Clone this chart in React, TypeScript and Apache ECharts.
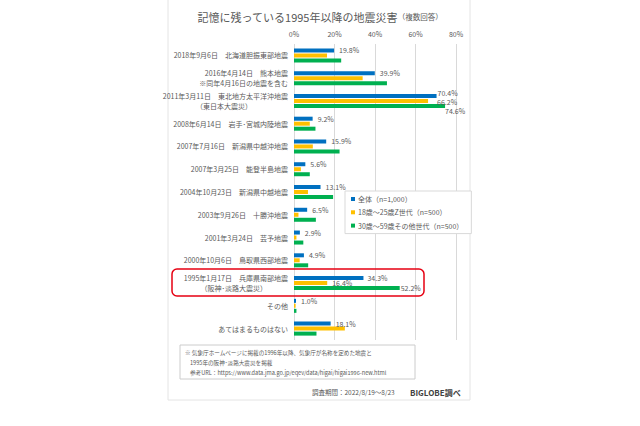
import React, { useEffect, useRef } from "react";
import * as echarts from "echarts";

const categories = [
  "2018年9月6日　北海道胆振東部地震",
  "2016年4月14日　熊本地震\n※同年4月16日の地震を含む",
  "2011年3月11日　東北地方太平洋沖地震\n（東日本大震災）",
  "2008年6月14日　岩手･宮城内陸地震",
  "2007年7月16日　新潟県中越沖地震",
  "2007年3月25日　能登半島地震",
  "2004年10月23日　新潟県中越地震",
  "2003年9月26日　十勝沖地震",
  "2001年3月24日　芸予地震",
  "2000年10月6日　鳥取県西部地震",
  "1995年1月17日　兵庫県南部地震\n（阪神･淡路大震災）",
  "その他",
  "あてはまるものはない",
];

const seriesNames = ["全体（n=1,000）", "18歳～25歳Z世代（n=500）", "30歳～59歳その他世代（n=500）"];

const totalValues = [19.8, 39.9, 70.4, 9.2, 15.9, 5.6, 13.1, 6.5, 2.9, 4.9, 34.3, 1.0, 18.1];
const genZValues = [16.3, 33.9, 66.2, 7.8, 9.3, 3.4, 6.9, 2.2, 1.2, 2.8, 16.4, 0.8, 25.1];
const otherValues = [23.3, 45.9, 74.6, 10.6, 22.5, 7.8, 19.3, 10.8, 4.6, 7.0, 52.2, 1.2, 11.1];

const xTicks = [0, 20, 40, 60, 80];

const noteLines = [
  "※ 気象庁ホームページに掲載の1996年以降、気象庁が名称を定めた地震と",
  "1995年の阪神･淡路大震災を掲載",
  "参考URL：https://www.data.jma.go.jp/eqev/data/higai/higai1996-new.html",
];
const periodText = "調査期間：2022/8/19～8/23";
const sourceText = "BIGLOBE調べ";

const FONT = "'Noto Sans CJK JP', 'Noto Sans', sans-serif";
const TXT = "#595959";
const COLORS = ["#0070C0", "#FFC000", "#00B050"];

const fmt = (p: any) => Number(p.value).toFixed(1) + "%";

export default function App() {
  const ref = useRef<HTMLDivElement>(null);
  useEffect(() => {
    document.body.style.margin = "0";
    const chart = echarts.init(ref.current!, null, { renderer: "svg" });

    const labelStyle = { color: TXT, fontSize: 7, lineHeight: 7, fontFamily: FONT };

    const blueData = totalValues.map((v, i) => {
      if (i === 2) return { value: v, label: { distance: 1, offset: [0, -2.5] } };
      if (i === 10) return { value: v, label: { distance: 4 } };
      return v;
    });
    const yellowData = genZValues.map((v, i) => {
      if (i === 2) return { value: v, label: { show: true, distance: 9, offset: [0, 1.5] } };
      if (i === 10) return { value: v, label: { show: true, distance: 5 } };
      return v;
    });
    const greenData = otherValues.map((v, i) => {
      if (i === 2) return { value: v, label: { show: true, distance: 0, offset: [0, 5.5] } };
      if (i === 10) return { value: v, label: { show: true, distance: 1 } };
      return v;
    });

    const option: any = {
      animation: false,
      backgroundColor: "#ffffff",
      textStyle: { fontFamily: FONT },
      title: {
        left: "center",
        top: 6,
        text: "{a|記憶に残っている1995年以降の地震災害}{b|（複数回答）}",
        textStyle: {
          fontWeight: "normal",
          rich: {
            a: { fontSize: 11, color: TXT, fontFamily: FONT, fontWeight: "normal" },
            b: { fontSize: 7.5, color: TXT, fontFamily: FONT, fontWeight: "normal" },
          },
        },
      },
      legend: {
        orient: "vertical",
        left: 345,
        top: 191,
        data: seriesNames,
        icon: "rect",
        itemWidth: 4,
        itemHeight: 4,
        itemGap: 3.3,
        padding: [3, 8, 3, 6],
        borderColor: "#d9d9d9",
        borderWidth: 1,
        backgroundColor: "#ffffff",
        textStyle: { color: TXT, fontSize: 7, lineHeight: 10, fontFamily: FONT, padding: [0, 0, 0, -2] },
        z: 10,
      },
      grid: { left: 294, right: 184, top: 44, bottom: 86, containLabel: false },
      xAxis: {
        type: "value",
        position: "top",
        min: 0,
        max: 80,
        interval: 20,
        axisLine: { show: false },
        axisTick: { show: false },
        splitLine: { lineStyle: { color: "#d9d9d9", width: 1 } },
        axisLabel: {
          formatter: (v: number) => (xTicks.includes(v) ? v + "%" : ""),
          color: TXT,
          fontSize: 7,
          margin: 7,
          fontFamily: FONT,
        },
      },
      yAxis: {
        type: "category",
        inverse: true,
        data: categories,
        axisLine: { show: false },
        axisTick: { show: false },
        axisLabel: {
          margin: 6,
          color: TXT,
          fontSize: 7,
          lineHeight: 10,
          fontFamily: FONT,
          formatter: (v: string) => {
            const parts = v.split("\n");
            if (parts.length === 1) return `{a|${parts[0]}}`;
            if (parts[0].startsWith("2011")) return `{a|${parts[0]}}\n{b|${parts[1]}}`;
            if (parts[0].startsWith("1995")) return `{a|${parts[0]}}\n{c|${parts[1]}}`;
            return `{a|${parts[0]}}\n{a|${parts[1]}}`;
          },
          rich: {
            a: { fontSize: 7, color: TXT, lineHeight: 10, fontFamily: FONT },
            b: { fontSize: 7, color: TXT, lineHeight: 10, fontFamily: FONT, padding: [0, 36, 0, 0] },
            c: { fontSize: 7, color: TXT, lineHeight: 10, fontFamily: FONT, padding: [0, 21, 0, 0] },
          },
        },
      },
      series: [
        {
          name: seriesNames[0],
          type: "bar",
          data: blueData,
          barWidth: 4,
          barGap: "25%",
          itemStyle: { color: COLORS[0] },
          label: { show: true, position: "right", distance: 5, formatter: fmt, ...labelStyle },
        },
        {
          name: seriesNames[1],
          type: "bar",
          data: yellowData,
          barWidth: 4,
          barGap: "25%",
          itemStyle: { color: COLORS[1] },
          label: { show: false, position: "right", distance: 5, formatter: fmt, ...labelStyle },
        },
        {
          name: seriesNames[2],
          type: "bar",
          data: greenData,
          barWidth: 4,
          barGap: "25%",
          itemStyle: { color: COLORS[2] },
          label: { show: false, position: "right", distance: 5, formatter: fmt, ...labelStyle },
        },
      ],
      graphic: [
        {
          type: "rect",
          shape: { x: 168, y: -2, width: 302, height: 402 },
          style: { fill: "none", stroke: "#e4e4e4", lineWidth: 1 },
          silent: true,
          z: -1,
        },
        {
          type: "rect",
          shape: { x: 172, y: 269, width: 252, height: 27, r: 5 },
          style: { fill: "none", stroke: "#e60012", lineWidth: 1.5 },
          silent: true,
          z: 20,
        },
        {
          type: "rect",
          shape: { x: 180, y: 345, width: 235, height: 34 },
          style: { fill: "none", stroke: "#cccccc", lineWidth: 1 },
          silent: true,
        },
        {
          type: "text",
          x: 185,
          y: 353,
          style: { text: noteLines[0], fontSize: 5.6, fill: TXT, fontFamily: FONT, verticalAlign: "middle" },
        },
        {
          type: "text",
          x: 190,
          y: 363,
          style: { text: noteLines[1], fontSize: 5.6, fill: TXT, fontFamily: FONT, verticalAlign: "middle" },
        },
        {
          type: "text",
          x: 190,
          y: 373,
          style: { text: noteLines[2], fontSize: 5.6, fill: TXT, fontFamily: FONT, verticalAlign: "middle" },
        },
        {
          type: "text",
          x: 312,
          y: 392,
          style: { text: periodText, fontSize: 6.5, fill: TXT, fontFamily: FONT, verticalAlign: "middle" },
        },
        {
          type: "text",
          x: 410,
          y: 392,
          style: {
            text: sourceText,
            fontSize: 8,
            fontWeight: "bold",
            fill: "#404040",
            fontFamily: FONT,
            verticalAlign: "middle",
          },
        },
      ],
    };
    chart.setOption(option);
    return () => chart.dispose();
  }, []);
  return (
    <div
      ref={ref}
      style={{ position: "fixed", left: 0, top: 0, width: 640, height: 426 }}
    />
  );
}
